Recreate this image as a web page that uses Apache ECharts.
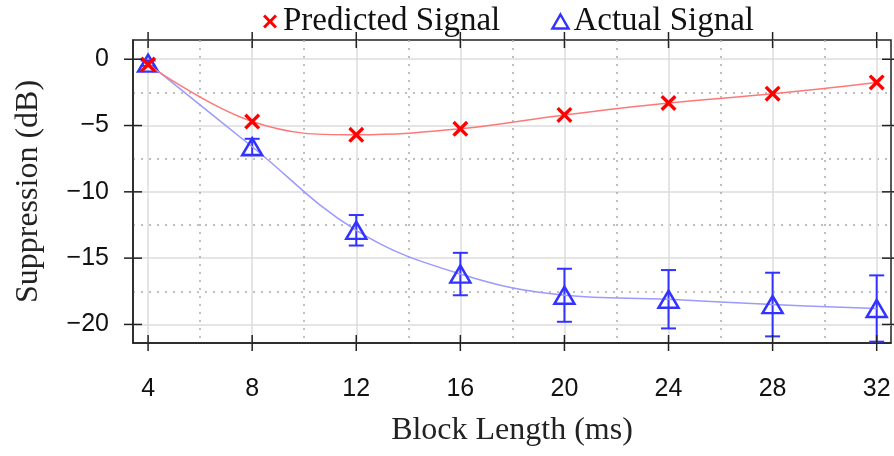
<!DOCTYPE html>
<html>
<head>
<meta charset="utf-8">
<script src="https://cdn.jsdelivr.net/npm/echarts@6/dist/echarts.min.js"></script>
<style>
  html, body { margin: 0; padding: 0; background: #fff; }
  #chart { width: 894px; height: 456px; }
</style>
</head>
<body>
<div id="chart"></div>
<script>
// data
var blockLengths = [4, 8, 12, 16, 20, 24, 28, 32];
var predicted = [-0.4, -4.7, -5.7, -5.25, -4.2, -3.3, -2.6, -1.75];
var actual = [-0.3, -6.6, -12.9, -16.2, -17.8, -18.1, -18.5, -18.8];
var actualErr = [0.2, 0.6, 1.15, 1.6, 2.0, 2.2, 2.4, 2.5];
var xTicks = [4, 8, 12, 16, 20, 24, 28, 32];
var xMinor = [6, 10, 14, 18, 22, 26, 30];
var yTicks = [0, -5, -10, -15, -20];
var yMinor = [-2.5, -7.5, -12.5, -17.5];

var serif = '"Liberation Serif", "Times New Roman", serif';
var sans = '"Liberation Sans", Arial, sans-serif';
var ink = '#222';
var crossPath = 'path://M0,1.5 L1.5,0 L5,3.5 L8.5,0 L10,1.5 L6.5,5 L10,8.5 L8.5,10 L5,6.5 L1.5,10 L0,8.5 L3.5,5 Z';

var xRange = { min: 3.42, max: 32.55 };
var yRange = { min: -21.4, max: 1.45 };

var myChart = echarts.init(document.getElementById('chart'));

// dotted minor grid lines come from an extra, otherwise invisible axis
function minorAxis(pos, ticks, range) {
    return {
        type: 'value', position: pos,
        min: range.min, max: range.max,
        axisLine: { show: false, onZero: false },
        axisLabel: { show: false, customValues: ticks },
        axisTick: { show: false, customValues: ticks },
        splitLine: { show: true, lineStyle: { color: '#aaa', width: 1.5, type: [2, 6] } }
    };
}

// tick marks crossing the frame on all four sides (pgfplots style)
function frameTicks(horizontal, len) {
    return function (params, api) {
        var v = api.value(0);
        var a, b;
        if (horizontal) {
            a = api.coord([v, yRange.min]);
            b = api.coord([v, yRange.max]);
            return { type: 'group', children: [
                { type: 'line', shape: { x1: a[0], y1: a[1] - len, x2: a[0], y2: a[1] + len }, style: { stroke: ink, lineWidth: 1.5 } },
                { type: 'line', shape: { x1: b[0], y1: b[1] - len, x2: b[0], y2: b[1] + len }, style: { stroke: ink, lineWidth: 1.5 } }
            ] };
        }
        a = api.coord([xRange.min, v]);
        b = api.coord([xRange.max, v]);
        return { type: 'group', children: [
            { type: 'line', shape: { x1: a[0] - len, y1: a[1], x2: a[0] + len, y2: a[1] }, style: { stroke: ink, lineWidth: 1.5 } },
            { type: 'line', shape: { x1: b[0] - len, y1: b[1], x2: b[0] + len, y2: b[1] }, style: { stroke: ink, lineWidth: 1.5 } }
        ] };
    };
}

var errData = blockLengths.map(function (x, i) {
    return [x, actual[i] - actualErr[i], actual[i] + actualErr[i]];
});

var option = {
    animation: false,
    grid: {
        left: 133, right: 3, top: 40, bottom: 113,
        show: true, borderColor: ink, borderWidth: 1.5, backgroundColor: 'transparent'
    },
    legend: {
        top: 0,
        left: 258,
        itemWidth: 16,
        itemHeight: 14,
        itemGap: 51,
        textStyle: { fontFamily: serif, fontSize: 33, color: '#111' },
        data: [
            { name: 'Predicted Signal', icon: crossPath, itemStyle: { color: '#ff0000', borderWidth: 0 } },
            { name: 'Actual Signal', icon: 'triangle',
              itemStyle: { color: 'rgba(0,0,0,0)', borderColor: '#3333ff', borderWidth: 2.5 } }
        ]
    },
    xAxis: [
        {
            type: 'value', position: 'bottom',
            min: xRange.min, max: xRange.max,
            name: 'Block Length (ms)',
            nameLocation: 'middle',
            nameGap: 72,
            nameTextStyle: { fontFamily: serif, fontSize: 32, color: '#222' },
            axisLine: { show: true, onZero: false, lineStyle: { color: ink, width: 1.5 } },
            axisTick: { show: false, customValues: xTicks },
            axisLabel: { customValues: xTicks, margin: 34, fontFamily: sans, fontSize: 25, color: '#111' },
            splitLine: { show: true, lineStyle: { color: '#dcdcdc', width: 1.5 } }
        },
        minorAxis('bottom', xMinor, xRange)
    ],
    yAxis: [
        {
            type: 'value', position: 'left',
            min: yRange.min, max: yRange.max,
            name: 'Suppression (dB)',
            nameLocation: 'middle',
            nameGap: 88,
            nameTextStyle: { fontFamily: serif, fontSize: 32, color: '#222' },
            axisLine: { show: true, onZero: false, lineStyle: { color: ink, width: 1.5 } },
            axisTick: { show: false, customValues: yTicks },
            axisLabel: {
                customValues: yTicks, margin: 24, fontFamily: sans, fontSize: 25, color: '#111',
                formatter: function (v) { return v < 0 ? '\u2212' + (-v) : String(v); }
            },
            splitLine: { show: true, lineStyle: { color: '#dcdcdc', width: 1.5 } }
        },
        minorAxis('left', yMinor, yRange)
    ],
    series: [
        {
            type: 'custom',
            data: xTicks.map(function (v) { return [v, yRange.min]; }),
            renderItem: frameTicks(true, 8),
            clip: false,
            silent: true,
            z: 6
        },
        {
            type: 'custom',
            data: yTicks.map(function (v) { return [xRange.min, v]; }),
            encode: { x: 0, y: 1 },
            renderItem: function (params, api) {
                return frameTicks(false, 9)(params, { value: function () { return api.value(1); }, coord: api.coord });
            },
            clip: false,
            silent: true,
            z: 6
        },
        {
            name: 'Actual Signal',
            type: 'line',
            smooth: 0.4,
            data: blockLengths.map(function (x, i) { return [x, actual[i]]; }),
            symbol: 'triangle',
            symbolSize: [20, 17],
            lineStyle: { color: '#9a9aff', width: 1.5 },
            itemStyle: { color: 'rgba(0,0,0,0)', borderColor: '#3333ff', borderWidth: 2.5 },
            z: 3
        },
        {
            name: 'Actual Error',
            type: 'custom',
            data: errData,
            renderItem: function (params, api) {
                var x = api.value(0);
                var lo = api.coord([x, api.value(1)]);
                var hi = api.coord([x, api.value(2)]);
                var hw = 7.5;
                var st = { stroke: '#3333ff', lineWidth: 2 };
                return {
                    type: 'group',
                    children: [
                        { type: 'line', shape: { x1: lo[0], y1: lo[1], x2: hi[0], y2: hi[1] }, style: st },
                        { type: 'line', shape: { x1: hi[0] - hw, y1: hi[1], x2: hi[0] + hw, y2: hi[1] }, style: st },
                        { type: 'line', shape: { x1: lo[0] - hw, y1: lo[1], x2: lo[0] + hw, y2: lo[1] }, style: st }
                    ]
                };
            },
            clip: true,
            z: 3
        },
        {
            name: 'Predicted Signal',
            type: 'line',
            smooth: 0.4,
            data: blockLengths.map(function (x, i) { return [x, predicted[i]]; }),
            symbol: crossPath,
            symbolSize: 16,
            lineStyle: { color: '#ff7878', width: 1.5 },
            itemStyle: { color: '#ff0000' },
            z: 4
        }
    ]
};
myChart.setOption(option);
</script>
</body>
</html>
